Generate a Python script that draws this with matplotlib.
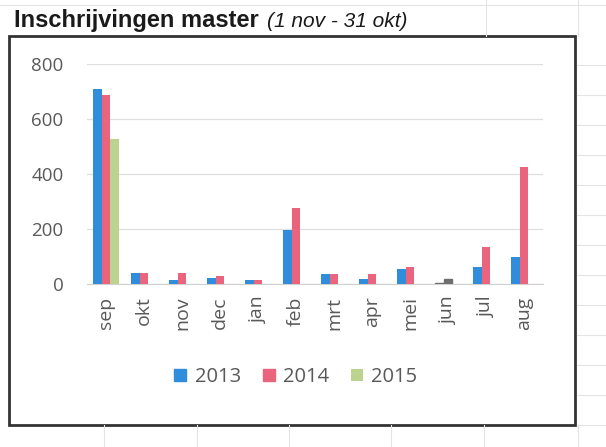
import numpy as np
import matplotlib.pyplot as plt
from matplotlib.patches import Rectangle
from matplotlib.lines import Line2D

'''Inschrijvingen master per maand, 2013-2015'''

maanden = ['sep', 'okt', 'nov', 'dec', 'jan', 'feb', 'mrt', 'apr', 'mei', 'jun', 'jul', 'aug']
jaren = ['2013', '2014', '2015']
v2013 = [710, 40, 14, 22, 14, 198, 36, 18, 54, 3, 62, 98]
v2014 = [688, 40, 40, 29, 14, 278, 36, 36, 62, 18, 134, 425]
v2015 = [529, 0, 0, 0, 0, 0, 0, 0, 0, 0, 0, 0]
yticks = [0, 200, 400, 600, 800]

kleuren = ['#2f8ddb', '#e9647c', '#bcd38f']
grijs = '#595959'

W, H = 606, 447
fig = plt.figure(figsize=(W / 100, H / 100), dpi=100)
fig.patch.set_facecolor('white')

# vage lijnen van het spreadsheet achter de grafiek
lijn = '#e4e4e4'
for x in [104, 197, 289, 391, 484, 578]:
    fig.add_artist(Line2D([x / W, x / W], [0, 1 - 425 / H], color=lijn, lw=0.8))
for x in [486, 578]:
    fig.add_artist(Line2D([x / W, x / W], [1 - 36 / H, 1], color=lijn, lw=0.8))
fig.add_artist(Line2D([0, 1], [1 - 5 / H, 1 - 5 / H], color=lijn, lw=0.8))
for y in range(65, 430, 30):
    fig.add_artist(Line2D([577 / W, 1], [1 - y / H, 1 - y / H], color=lijn, lw=0.8))

# rand om de grafiek
fig.add_artist(Rectangle((9 / W, 1 - 425 / H), (575 - 9) / W, (425 - 36) / H,
                         fill=True, facecolor='white', edgecolor='#333333', lw=2, zorder=1))

ax = fig.add_axes([87 / W, 1 - 284 / H, (543 - 87) / W, (284 - 64) / H])
ax.set_zorder(2)
ax.patch.set_alpha(0)

x = np.arange(len(maanden))
b = 0.23
bars13 = ax.bar(x - b, v2013, b, color=kleuren[0], label=jaren[0], zorder=3)
bars14 = ax.bar(x, v2014, b, color=kleuren[1], label=jaren[1], zorder=3)
bars15 = ax.bar(x + b, v2015, b, color=kleuren[2], label=jaren[2], zorder=3)
# jun staat grijs in het origineel
bars13[9].set_color('#6e6e6e')
bars14[9].set_color('#6e6e6e')

ax.set_xlim(-0.5, 11.5)
ax.set_ylim(0, 800)
ax.set_yticks(yticks)
ax.yaxis.grid(True, color='#dedede', lw=0.9, zorder=0)
ax.set_axisbelow(True)
for s in ['top', 'right', 'left']:
    ax.spines[s].set_visible(False)
ax.spines['bottom'].set_color('#d0d0d0')
ax.set_xticks(x)
ax.set_xticklabels(maanden, rotation=90, family='Open Sans', fontsize=14, color=grijs)
ax.set_yticklabels([str(t) for t in yticks], family='Open Sans', fontsize=13.5, color=grijs)
ax.tick_params(axis='both', length=0)
ax.tick_params(axis='y', pad=17)
ax.tick_params(axis='x', pad=9)

leg = fig.legend(handles=[bars13, bars14, bars15], labels=jaren, loc='center',
                 bbox_to_anchor=(296 / W, 1 - 377 / H), ncol=3, frameon=False,
                 handlelength=0.6, handleheight=0.6, handletextpad=0.4, columnspacing=1.1,
                 prop={'family': 'Open Sans', 'size': 14.5})
for t in leg.get_texts():
    t.set_color(grijs)
leg.legend_handles[0].set_color(kleuren[0])
leg.legend_handles[1].set_color(kleuren[1])

# titel: vet deel + cursief deel
t1 = fig.text(14 / W, 1 - 27 / H, 'Inschrijvingen master', family='Liberation Sans',
              fontweight='bold', fontsize=17, color='#1a1a1a')
r = fig.canvas.get_renderer()
bb = t1.get_window_extent(renderer=r)
fig.text(bb.x1 / W + 8 / W, 1 - 27 / H, '(1 nov - 31 okt)', family='Liberation Sans',
         style='italic', fontsize=15, color='#1a1a1a')

fig.savefig('out.png', dpi=100, facecolor='white')
